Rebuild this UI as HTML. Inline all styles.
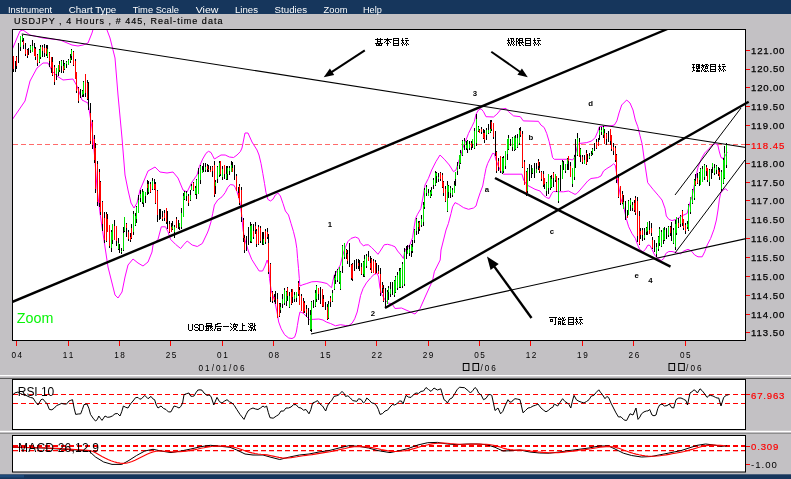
<!DOCTYPE html>
<html><head><meta charset="utf-8"><title>USDJPY 4 Hours</title>
<style>html,body{margin:0;padding:0;background:#c3c1c4;overflow:hidden}body{width:791px;height:479px;font-family:"Liberation Sans",sans-serif}svg{display:block;position:absolute;left:0;top:0;will-change:transform}text{font-family:"Liberation Sans",sans-serif}</style>
</head><body>
<svg width="791" height="479" viewBox="0 0 791 479">
<defs><clipPath id="cm"><rect x="13" y="30" width="732" height="311"/></clipPath><clipPath id="cr"><rect x="13" y="381" width="732" height="48"/></clipPath><clipPath id="cd"><rect x="13" y="437" width="732" height="35"/></clipPath></defs>
<rect x="0" y="0" width="791" height="479" fill="#c3c1c4"/>
<rect x="0" y="0" width="791" height="14" fill="#16365c"/>
<text x="8.0" y="13" font-size="9.6" fill="#ffffff" textLength="44.0" lengthAdjust="spacingAndGlyphs">Instrument</text>
<text x="68.8" y="13" font-size="9.6" fill="#ffffff" textLength="47.5" lengthAdjust="spacingAndGlyphs">Chart Type</text>
<text x="132.7" y="13" font-size="9.6" fill="#ffffff" textLength="46.3" lengthAdjust="spacingAndGlyphs">Time Scale</text>
<text x="195.7" y="13" font-size="9.6" fill="#ffffff" textLength="22.8" lengthAdjust="spacingAndGlyphs">View</text>
<text x="235.0" y="13" font-size="9.6" fill="#ffffff" textLength="23.0" lengthAdjust="spacingAndGlyphs">Lines</text>
<text x="274.6" y="13" font-size="9.6" fill="#ffffff" textLength="32.4" lengthAdjust="spacingAndGlyphs">Studies</text>
<text x="323.6" y="13" font-size="9.6" fill="#ffffff" textLength="23.8" lengthAdjust="spacingAndGlyphs">Zoom</text>
<text x="363.0" y="13" font-size="9.6" fill="#ffffff" textLength="18.8" lengthAdjust="spacingAndGlyphs">Help</text>
<text x="14" y="24.3" font-size="9" fill="#000" stroke="#000" stroke-width="0.15" textLength="208.5" lengthAdjust="spacing">USDJPY , 4 Hours , # 445, Real-time data</text>
<rect x="0" y="474.3" width="791" height="4.7" fill="#16365c"/>
<rect x="0" y="475" width="24" height="2.5" fill="#1f4a7a"/>
<rect x="12.5" y="29.5" width="733" height="311" fill="#fff" stroke="#000" stroke-width="1"/>
<rect x="0" y="375" width="791" height="1.2" fill="#ffffff"/>
<rect x="0" y="377.9" width="791" height="1.1" fill="#5a5a5a"/>
<rect x="0" y="430.8" width="791" height="1.3" fill="#ffffff"/>
<rect x="0" y="432.9" width="791" height="1.1" fill="#8e8e8e"/>
<rect x="12.5" y="379.5" width="733" height="50" fill="#fff" stroke="#000" stroke-width="1"/>
<rect x="12.5" y="435.5" width="733" height="36.5" fill="#fff" stroke="#000" stroke-width="1"/>
<g clip-path="url(#cm)">
<line x1="13" y1="144.5" x2="745" y2="144.5" stroke="#ff6a6a" stroke-width="1" stroke-dasharray="5,3"/>
<polyline fill="none" stroke="#ff00ff" stroke-width="1" stroke-linejoin="round" points="12.0,50.0 17.0,38.0 20.0,31.0 23.0,30.0 30.0,35.0 43.0,38.0 60.0,40.0 72.0,45.0 78.0,46.0 83.0,45.0 88.0,43.0 92.0,33.0 94.0,26.0 100.0,8.0 105.0,20.0 107.0,30.0 110.0,38.0 115.0,58.0 118.0,95.0 122.0,138.0 125.0,175.0 127.0,185.0 128.0,190.0 131.0,203.0 134.0,208.0 137.0,203.0 140.0,190.0 143.0,183.0 148.0,171.0 155.0,167.0 160.0,172.0 167.0,173.0 173.0,172.0 178.0,178.0 183.0,190.0 187.0,192.0 192.0,182.0 197.0,175.0 199.3,166.7 202.7,159.0 206.0,153.3 208.5,151.3 211.0,152.5 212.7,155.8 214.4,159.0 216.9,157.5 221.0,155.0 225.2,155.0 229.4,157.0 233.6,157.5 237.0,155.0 240.3,151.7 242.0,148.0 245.0,133.0 248.0,133.0 252.0,142.0 257.0,150.0 259.0,155.0 261.0,163.4 262.8,173.4 264.5,183.4 266.0,192.6 267.8,199.3 270.4,201.0 272.9,199.3 275.4,195.0 277.9,193.0 280.4,196.0 283.0,203.5 285.4,211.0 288.5,215.0 291.0,223.4 293.5,231.7 295.5,240.0 296.8,248.4 297.6,258.4 298.5,268.5 299.3,278.5 299.8,286.0 302.7,284.8 306.8,283.5 311.8,281.8 316.9,281.5 321.9,282.3 326.9,283.5 330.2,286.5 331.6,287.7 332.7,281.8 334.4,275.0 336.9,271.0 340.3,265.0 342.8,255.0 345.3,247.6 347.8,241.7 351.0,238.4 355.3,237.0 358.6,238.4 360.3,242.6 363.6,246.0 365.0,245.0 368.3,244.8 371.7,247.6 375.0,251.0 378.0,254.3 380.9,250.0 384.2,244.8 387.6,244.3 391.7,245.4 395.0,246.8 397.6,251.0 401.0,255.0 403.4,258.5 405.0,250.0 407.6,247.6 410.0,244.3 412.6,237.6 414.0,228.0 415.5,218.5 417.5,214.3 420.9,208.5 423.4,195.0 425.0,185.0 428.4,178.4 431.7,170.0 435.9,161.7 440.0,155.0 444.3,159.2 449.3,165.0 453.5,171.7 456.0,170.0 458.5,161.7 461.0,155.0 462.6,148.5 465.0,142.6 468.5,133.4 471.8,126.7 474.3,121.7 476.0,114.2 478.5,110.0 481.0,108.7 483.5,111.7 486.0,116.7 493.5,117.0 496.9,114.2 501.0,109.2 506.0,108.4 508.6,111.7 513.6,115.9 520.3,116.7 523.3,120.9 538.4,121.3 540.9,125.0 544.2,127.5 546.7,133.4 549.2,141.7 550.9,149.2 552.6,157.6 554.3,159.3 570.0,159.3 572.6,160.0 574.3,157.6 576.0,151.7 577.6,145.0 580.0,143.4 586.8,142.6 591.8,140.9 595.2,137.5 597.7,131.7 599.4,126.7 603.5,126.3 611.0,125.8 614.4,125.0 616.9,120.8 619.0,113.0 621.7,105.0 626.7,100.0 630.0,103.0 633.0,110.0 635.3,120.0 637.8,126.7 640.0,135.6 642.2,144.3 644.4,160.8 647.7,182.7 653.0,189.3 658.6,195.8 662.0,200.0 665.0,208.4 666.3,216.0 668.8,219.3 672.0,220.6 676.3,219.3 680.5,216.7 683.8,215.0 687.2,213.4 688.9,206.7 690.5,200.9 692.2,196.0 694.5,184.0 698.0,167.3 701.4,158.6 704.7,153.0 709.0,148.7 712.3,145.0 715.6,143.7 717.8,145.0 719.4,152.0 721.0,157.5 723.3,158.6 725.5,155.3 727.3,152.0"/>
<polyline fill="none" stroke="#ff00ff" stroke-width="1" stroke-linejoin="round" points="12.0,120.0 25.0,101.0 30.0,81.0 37.0,68.0 43.0,63.0 48.0,63.0 52.0,71.0 57.0,76.0 63.0,80.0 73.0,79.0 77.0,86.0 82.0,100.0 88.0,103.0 92.0,128.0 95.0,161.0 97.0,188.0 100.0,213.0 105.0,247.0 108.0,267.0 112.0,283.0 115.0,295.0 118.0,298.0 122.0,292.0 125.0,277.0 128.0,265.0 133.0,259.0 138.0,263.0 143.0,266.0 148.0,262.0 152.0,252.0 153.0,245.0 158.0,239.3 161.3,226.8 165.5,226.8 168.0,231.8 170.5,239.3 175.5,244.3 180.6,248.5 184.0,244.3 187.2,241.0 192.2,245.0 197.3,246.5 202.3,243.5 207.3,233.0 208.5,230.0 211.0,221.8 212.7,213.5 214.4,205.0 217.7,200.0 222.0,196.8 225.2,192.6 227.7,187.6 230.3,184.6 233.6,185.0 235.3,187.6 237.0,191.8 238.6,196.8 239.8,201.8 240.8,208.5 241.7,215.0 243.0,230.0 245.0,240.0 248.4,251.0 251.7,259.3 255.9,266.0 259.2,271.0 262.6,271.0 265.0,266.0 267.2,260.0 268.7,265.0 269.5,278.7 271.2,290.4 274.5,300.4 277.0,312.0 278.7,322.0 281.2,328.8 284.6,334.7 288.7,338.0 292.0,338.5 294.6,337.2 296.3,332.2 297.4,325.5 298.8,317.0 300.0,311.8 303.0,313.0 306.3,316.3 309.6,319.6 313.8,319.3 318.8,319.0 323.0,320.0 326.3,322.0 330.5,323.5 335.5,325.8 340.5,324.7 345.5,325.5 348.9,325.5 352.2,323.0 354.7,318.8 357.2,312.0 358.9,303.8 360.6,295.4 363.0,288.7 366.4,282.9 370.6,277.9 374.0,274.5 377.3,273.4 378.6,277.0 379.8,287.0 381.5,293.7 384.8,299.6 388.0,303.0 392.0,303.8 395.0,308.5 401.5,308.0 406.0,310.0 415.0,314.0 420.0,308.5 426.0,295.0 431.0,284.0 432.7,280.0 434.3,271.8 437.7,265.0 440.2,260.0 441.0,250.0 443.5,240.0 446.0,230.0 448.4,223.5 451.0,213.5 452.6,206.8 455.0,202.6 458.5,204.3 463.5,207.6 468.5,209.3 473.5,208.0 476.0,206.0 477.7,200.0 480.2,192.6 482.7,186.0 484.4,176.7 486.0,168.4 487.7,163.4 490.2,158.4 492.7,153.3 494.4,153.7 496.0,160.0 498.6,166.7 501.0,171.7 503.6,174.2 522.0,174.2 523.6,180.0 527.0,185.0 535.0,189.3 540.0,191.0 543.4,195.2 546.7,197.7 549.2,198.5 551.7,193.5 553.4,191.5 563.4,191.8 568.5,191.0 571.8,192.7 575.0,194.4 576.8,193.5 580.0,190.0 584.3,185.0 587.7,181.0 591.0,178.5 597.7,177.6 601.0,176.0 603.5,171.0 606.9,168.5 611.0,166.0 613.6,163.8 615.2,165.0 616.6,173.5 617.7,181.8 619.4,190.0 620.8,198.5 623.7,206.7 626.2,218.4 628.7,226.8 632.0,233.5 635.4,238.5 637.4,244.3 639.6,249.3 643.0,251.8 645.4,249.3 648.0,245.0 650.0,245.5 652.0,249.3 654.6,255.0 658.0,258.5 661.3,260.5 663.8,258.5 665.8,253.5 668.8,251.5 672.0,251.5 676.3,252.7 680.5,253.8 683.8,251.0 688.0,249.3 691.4,251.0 694.7,255.0 698.0,256.8 702.2,256.8 704.7,251.8 707.2,245.0 710.6,238.5 714.0,229.3 716.4,220.0 718.0,210.0 719.3,200.0 720.6,193.4 723.0,190.0 725.6,188.7 727.6,190.8"/>
<g transform="translate(0.5,0)" shape-rendering="crispEdges" fill="none" stroke-width="1">
<path stroke="#000" d="M13 55.6V71.7M15 60.5V71.9M16 56.3V69.2M18 42.5V63.3M20 35.5V50.9M22 34.8V42.1M23 37.8V49.2M25 43.0V56.2M27 49.2V57.6M28 47.8V55.2M30 44.8V53.0M32 40.2V52.3M34 42.5V55.7M35 46.8V59.6M37 54.1V65.9M39 48.5V63.1M40 45.0V59.4M42 44.5V57.4M44 44.4V57.1M46 44.8V56.2M47 44.9V57.5M49 52.1V66.8M51 56.5V72.7M52 57.0V75.7M54 64.9V84.6M56 67.7V80.1M58 64.5V75.8M59 61.1V72.3M61 60.1V72.8M63 60.1V72.7M64 63.1V70.4M66 61.1V67.7M68 58.6V64.7M70 54.0V62.7M71 49.3V60.0M73 51.4V65.5M75 58.8V78.8M76 71.5V93.2M78 87.4V102.9M80 89.2V98.1M82 89.7V97.2M83 80.7V96.9M85 73.5V97.1M87 79.6V99.6M88 81.9V110.2M90 103.3V143.7M92 120.1V148.5M94 134.6V163.1M95 142.5V193.4M97 160.5V205.7M99 169.0V206.6M100 181.4V214.7M102 201.2V230.8M104 212.1V242.7M106 211.5V242.1M107 214.3V232.0M109 224.9V247.9M111 230.0V251.9M112 223.6V244.0M114 220.2V240.3M116 226.0V246.0M118 237.6V250.3M119 243.8V252.6M121 248.0V253.7M123 226.7V251.3M124 216.7V232.4M126 223.2V236.7M128 229.6V241.3M130 232.5V241.6M131 224.2V238.6M133 211.1V234.6M135 213.0V226.2M136 206.4V223.2M138 195.4V213.3M140 190.2V201.8M142 189.4V203.8M143 191.0V207.0M145 191.7V203.1M147 180.1V195.3M148 180.8V193.6M150 181.8V193.1M152 177.9V190.0M154 179.1V190.0M155 182.0V204.3M157 189.8V221.6M159 208.5V220.0M160 209.3V219.2M162 211.3V221.2M164 210.3V220.6M166 207.6V224.1M167 211.0V229.1M169 220.6V233.2M171 222.9V232.1M172 221.0V229.9M174 225.4V237.9M176 216.7V228.1M178 220.1V229.2M179 222.6V230.4M181 208.1V228.5M183 192.8V217.1M184 191.4V200.0M186 190.7V200.9M188 193.7V206.4M190 190.3V200.5M191 183.6V190.3M193 182.1V191.1M195 186.4V195.0M196 179.0V198.8M198 167.9V194.2M200 165.4V183.9M202 165.6V173.1M203 163.2V172.3M205 163.4V171.7M207 163.6V172.4M208 164.9V171.9M210 165.9V171.9M212 165.8V176.8M214 161.4V196.8M215 179.9V193.6M217 165.7V183.0M219 160.8V177.4M220 161.1V176.4M222 166.0V179.6M224 165.1V179.1M226 165.8V179.7M227 166.0V179.7M229 165.8V175.3M231 161.3V172.3M232 162.4V172.4M234 165.0V180.3M236 174.3V191.2M238 186.9V198.3M239 183.7V205.4M241 187.4V222.4M243 217.7V242.1M244 235.2V253.1M246 235.7V250.9M248 227.4V245.4M250 222.3V242.5M251 223.9V242.5M253 224.4V238.6M255 221.8V234.3M256 229.3V246.8M258 225.2V244.9M260 226.3V243.1M262 231.9V244.6M263 232.1V244.6M265 228.7V244.4M267 228.0V238.5M268 233.6V273.6M270 263.1V301.5M272 290.5V303.4M274 293.8V301.5M275 291.4V303.8M277 292.7V318.4M279 303.3V317.2M280 303.2V312.6M282 293.9V307.9M284 287.5V304.5M286 291.2V305.5M287 287.0V300.6M289 292.3V307.5M291 289.4V304.6M292 289.0V302.5M294 292.2V301.8M296 292.0V301.5M298 281.4V296.4M299 287.0V305.3M301 294.2V310.8M303 298.3V313.4M304 300.7V313.3M306 304.9V316.6M308 308.2V324.5M310 309.5V330.6M311 300.8V332.4M313 300.1V308.4M315 290.0V307.2M316 285.4V301.7M318 288.0V300.0M320 287.1V303.8M322 289.1V307.2M323 295.4V307.2M325 302.0V310.2M327 303.6V319.6M328 300.9V318.5M330 296.4V307.1M332 289.9V301.7M334 274.6V289.8M335 270.6V283.5M337 268.9V282.1M339 266.7V284.2M340 270.8V289.6M342 245.0V272.8M344 242.7V258.9M346 249.2V259.4M347 249.5V263.5M349 243.0V266.8M351 263.7V279.6M352 262.7V281.4M354 260.4V270.6M356 259.4V268.9M358 259.2V268.8M359 260.0V270.6M361 262.6V274.7M363 261.0V276.7M364 255.0V276.8M366 253.6V267.7M368 251.0V260.7M370 256.2V269.8M371 258.0V272.5M373 259.3V273.4M375 259.6V274.4M376 262.5V273.4M378 265.4V274.2M380 267.9V295.8M382 282.2V293.2M383 285.0V301.9M385 287.5V307.0M387 290.3V303.9M388 285.6V300.4M390 281.9V297.0M392 281.5V294.8M394 280.0V296.8M395 276.3V293.2M397 271.8V289.5M399 267.8V288.0M400 267.9V288.2M402 261.8V287.5M404 248.4V285.6M406 245.8V258.7M407 244.6V254.3M409 244.9V256.1M411 244.3V256.8M412 240.3V253.0M414 229.4V242.9M416 218.4V234.6M418 221.4V233.7M419 220.5V230.9M421 214.6V227.1M423 201.8V226.1M424 188.3V208.8M426 185.0V195.7M428 188.6V196.3M430 190.4V198.2M431 186.9V195.5M433 177.5V188.8M435 171.2V185.9M436 171.8V182.9M438 173.4V182.3M440 172.0V181.3M442 173.0V187.7M443 180.6V196.4M445 186.2V202.4M447 181.1V211.5M448 185.3V198.0M450 186.3V197.6M452 188.4V196.7M454 181.4V193.3M455 172.2V185.7M457 162.1V175.1M459 155.0V169.2M460 149.5V163.8M462 139.8V155.9M464 138.3V149.6M466 140.6V150.1M467 140.4V153.0M469 141.2V150.1M471 140.6V149.5M472 139.0V148.2M474 128.1V148.5M476 113.5V146.1M478 125.6V132.3M479 128.6V133.2M481 127.3V133.5M483 128.5V138.9M484 130.0V142.8M486 127.9V140.4M488 123.9V134.0M490 120.3V133.1M491 119.7V130.7M493 122.6V139.1M495 131.0V156.0M496 150.9V173.1M498 157.7V171.4M500 156.1V172.8M502 156.5V173.7M503 156.0V172.7M505 150.5V169.4M507 138.9V159.7M508 134.8V149.7M510 139.2V145.7M512 137.3V150.5M514 135.5V151.4M515 135.1V150.2M517 133.8V147.5M519 128.4V144.8M520 127.1V136.8M522 130.9V167.6M524 160.2V185.3M526 170.5V195.7M527 167.5V192.6M529 163.8V180.7M531 165.3V178.4M532 167.6V174.2M534 163.4V178.0M536 162.7V173.4M538 159.3V169.7M539 162.0V173.3M541 170.7V180.7M543 170.8V186.7M544 178.1V189.1M546 182.1V196.4M548 174.0V193.5M550 176.2V190.3M551 174.9V187.6M553 172.1V186.9M555 174.0V181.5M556 175.6V192.2M558 178.4V203.2M560 165.0V191.1M562 160.0V179.2M563 161.4V169.8M565 163.5V172.7M567 157.8V170.1M568 156.1V169.9M570 162.2V177.1M572 167.7V187.1M574 155.2V180.3M575 138.5V167.9M577 132.8V156.2M579 138.3V157.4M580 148.0V162.3M582 154.6V164.2M584 155.2V163.8M586 149.5V164.8M587 154.2V161.8M589 152.5V158.5M591 151.4V156.3M592 148.0V154.7M594 143.4V151.4M596 139.3V148.7M598 137.7V146.0M599 127.2V139.7M601 126.8V135.2M603 126.0V137.6M604 129.3V144.1M606 133.4V144.5M608 131.0V141.9M610 128.5V145.3M611 134.9V151.1M613 142.5V154.7M615 145.9V161.8M616 154.0V182.9M618 173.5V197.9M620 185.5V204.7M622 190.7V203.6M623 195.0V209.4M625 200.7V220.3M627 210.2V217.9M628 199.5V215.1M630 198.3V210.8M632 202.2V211.4M634 199.8V212.0M635 196.3V215.0M637 197.0V242.4M639 210.8V244.6M640 227.5V238.5M642 228.2V240.9M644 227.8V239.5M646 226.8V235.4M647 221.6V234.7M649 221.1V234.1M651 222.7V236.2M652 236.7V248.6M654 239.5V251.8M656 242.8V256.5M658 236.1V250.5M659 227.0V246.2M661 229.7V246.5M663 227.8V243.5M664 227.1V240.5M666 227.9V238.5M668 225.7V236.8M670 225.6V236.2M671 222.3V240.5M673 228.3V243.9M675 219.9V249.6M676 217.1V234.9M678 218.3V227.9M680 215.3V226.6M682 210.0V226.4M683 218.5V230.4M685 223.3V233.8M687 221.2V228.8M688 204.1V230.7M690 197.2V214.2M692 188.8V204.0M694 178.7V199.8M695 174.0V186.2M697 172.7V183.9M699 172.3V186.0M700 167.8V185.2M702 165.6V181.7M704 163.8V179.7M706 164.5V175.6M707 167.9V182.0M709 169.3V185.7M711 169.3V178.7M712 162.7V172.6M714 163.8V174.5M716 165.3V174.3M718 166.7V175.7M719 168.1V179.7M721 169.5V191.2M723 158.0V184.3M724 145.6V178.9M726 142.8V167.9"/>
<path stroke="#00e000" d="M20 36.0V47.3M22 36.1V40.0M30 46.0V50.4M32 46.2V51.9M39 50.2V61.8M40 46.5V57.4M47 48.6V56.6M56 68.2V74.2M58 64.6V72.1M61 61.4V66.2M64 63.7V68.5M66 62.4V64.1M68 60.2V64.6M70 57.5V60.6M71 49.7V55.9M82 91.3V95.1M83 81.9V94.1M111 231.8V248.1M112 223.6V239.9M118 243.2V249.1M121 250.6V252.2M123 232.8V250.4M124 217.1V231.3M133 213.6V232.2M135 215.8V224.6M136 206.7V219.0M138 199.6V212.5M140 193.6V197.9M142 191.5V202.1M143 191.0V203.4M145 191.8V195.8M148 184.3V192.2M152 180.6V189.0M172 226.4V228.8M174 227.1V231.6M179 223.2V226.9M181 212.7V227.0M183 196.0V216.7M184 192.2V198.6M186 192.7V195.8M190 194.5V200.3M191 185.5V189.7M195 187.8V194.2M196 179.8V194.4M198 173.9V193.5M200 165.9V179.6M202 169.8V172.6M205 167.0V169.6M215 182.3V185.9M217 166.9V179.4M219 163.2V175.1M222 168.8V176.5M226 173.8V179.1M227 167.5V173.8M229 167.7V171.1M231 165.2V172.1M250 225.9V241.3M251 224.9V241.9M263 238.6V243.8M280 307.3V310.1M282 299.3V304.3M284 290.1V303.3M286 291.5V300.8M289 295.7V307.3M294 294.6V299.0M296 292.3V297.8M310 314.6V329.7M311 302.4V328.9M315 293.2V306.2M316 285.8V298.8M328 304.0V318.2M332 292.7V300.9M334 277.5V289.4M335 276.3V280.2M337 270.1V279.9M339 266.8V281.9M340 271.7V289.0M342 246.2V265.9M344 242.9V257.4M363 261.8V274.3M364 258.7V275.5M366 255.5V266.2M387 292.1V303.5M388 287.8V292.2M390 288.6V294.3M394 280.7V295.4M395 276.5V291.5M397 275.2V288.4M399 270.9V287.2M400 268.5V286.5M402 263.7V285.6M404 251.7V284.2M407 250.2V253.6M409 248.7V252.8M411 245.4V250.7M412 246.8V251.1M414 230.2V239.5M416 219.1V230.9M418 222.9V227.0M421 218.8V224.7M423 204.7V221.8M424 189.8V207.0M426 186.8V193.4M428 192.9V195.8M430 191.8V196.5M431 190.2V194.1M433 179.9V185.3M435 173.0V185.3M436 173.1V176.1M438 176.7V179.4M447 185.0V211.3M448 186.2V191.9M450 187.6V193.1M452 189.7V195.2M454 184.8V192.7M455 172.3V178.5M457 165.5V170.7M459 155.3V165.4M460 152.7V163.2M462 140.7V155.4M464 140.8V144.9M466 144.5V147.6M467 141.3V149.4M469 143.9V148.0M472 139.0V143.8M474 130.8V148.0M476 119.4V142.7M478 126.5V130.5M486 130.1V135.3M488 130.4V133.1M490 129.1V132.3M502 157.7V172.8M503 158.1V171.2M505 151.0V165.9M507 139.0V153.6M508 138.4V149.1M512 137.6V146.6M514 135.8V150.3M515 138.0V148.6M517 138.3V146.8M519 129.7V143.2M527 168.5V191.0M532 168.2V172.7M536 169.2V173.0M546 183.0V191.2M548 174.2V187.9M550 176.9V188.4M551 179.4V187.4M555 174.2V179.6M558 179.9V200.9M562 161.7V179.1M565 164.3V170.9M567 158.7V163.7M572 168.1V183.6M574 156.9V177.0M577 138.2V155.4M580 149.0V154.8M584 160.1V163.8M589 156.1V158.2M591 153.7V155.4M592 148.8V152.5M599 130.2V134.5M601 129.6V131.8M603 127.3V134.9M623 201.6V208.9M628 201.2V214.8M630 200.4V205.2M632 204.7V208.2M644 235.3V238.3M646 228.4V231.7M647 221.8V230.8M656 246.7V253.6M658 237.0V249.0M659 228.8V243.4M661 231.5V246.1M663 228.3V240.4M664 230.3V239.9M668 227.4V235.4M673 229.9V242.8M675 223.6V247.3M676 217.4V233.1M680 215.8V223.7M687 224.0V226.6M688 205.3V229.8M690 197.4V212.2M692 189.9V203.3M694 179.6V197.9M699 172.5V180.2M700 169.2V184.9M702 168.5V181.5M704 165.0V176.9M709 169.9V181.6M712 163.3V166.5M714 168.4V173.4M716 166.4V170.3M721 171.7V189.4M723 160.3V182.5M724 153.0V177.6M726 144.4V165.1"/>
<path stroke="#ff0000" d="M13 55.7V69.4M16 57.3V65.9M23 41.0V45.0M25 48.6V53.8M27 50.0V55.7M34 47.7V55.7M35 49.3V56.8M37 55.2V62.7M42 46.5V50.7M44 47.7V52.5M46 47.6V54.4M49 52.5V60.9M51 56.5V68.1M52 61.8V75.0M54 66.5V81.8M59 63.9V69.8M63 66.1V71.3M73 52.3V64.5M75 61.2V78.7M76 72.0V90.7M78 87.6V101.2M85 74.2V92.9M87 82.7V99.2M90 113.0V141.3M92 121.7V145.1M94 139.0V159.6M95 147.9V189.2M97 164.2V202.0M99 172.3V203.1M100 182.2V212.4M102 202.2V223.8M104 217.9V239.9M106 214.3V240.6M107 218.5V231.8M109 225.4V245.7M114 225.8V240.2M116 226.2V241.4M126 223.7V227.8M128 231.8V239.2M130 236.7V240.1M131 227.5V237.8M147 183.5V187.6M150 183.9V192.3M154 183.5V188.9M155 184.3V203.2M157 190.5V215.3M162 216.5V219.3M164 212.8V217.9M166 207.8V221.7M169 224.1V231.5M171 227.2V231.6M176 219.3V227.5M188 196.1V202.5M193 183.3V189.8M207 166.0V169.3M208 168.6V170.4M210 170.1V171.6M212 166.9V171.0M214 164.6V195.0M220 161.1V173.9M224 165.2V173.7M232 167.5V172.1M236 175.8V191.0M238 193.2V197.9M239 185.5V202.5M241 190.3V217.0M243 219.9V238.1M244 237.6V250.3M253 231.0V236.5M255 226.2V229.5M256 231.2V244.3M258 227.0V244.3M260 227.5V240.5M265 230.8V242.2M267 231.8V236.7M268 242.8V271.9M270 264.1V297.3M272 291.8V300.7M274 297.0V299.8M277 299.1V318.2M279 304.0V316.4M287 288.0V295.7M291 292.1V304.2M292 289.0V297.3M298 282.5V293.5M299 289.9V304.6M301 295.7V310.8M303 301.2V313.0M304 302.6V310.6M306 308.8V313.0M318 288.3V293.9M322 289.3V305.8M323 299.4V307.2M327 307.4V319.1M330 297.5V301.9M346 250.0V252.6M347 253.5V261.1M351 264.5V278.4M352 263.8V279.2M358 263.2V266.3M361 266.6V273.9M368 256.8V260.5M370 262.5V267.7M371 258.5V271.5M373 260.7V272.7M375 261.5V274.0M378 271.4V273.8M380 273.5V293.3M382 285.0V288.2M383 289.2V301.2M419 221.6V229.2M440 173.3V179.4M442 175.4V187.0M443 181.9V193.1M445 188.6V201.4M471 142.7V147.1M479 129.6V132.8M481 129.2V131.8M483 133.1V137.9M484 133.3V139.7M491 121.7V129.4M493 123.2V137.1M496 152.2V170.9M498 161.3V166.5M500 156.1V171.3M520 130.6V134.8M522 133.6V166.9M524 161.7V184.7M526 172.3V195.4M538 160.7V165.7M539 168.1V171.4M541 172.1V179.1M543 173.7V185.4M544 178.3V183.9M553 172.6V177.7M556 176.0V191.1M568 156.2V160.6M570 166.2V176.8M579 142.1V156.7M582 156.5V162.1M586 152.8V163.5M596 142.3V148.0M598 141.5V145.6M604 133.0V143.5M606 133.5V139.2M610 128.6V141.1M611 135.2V149.0M613 146.7V150.5M615 148.4V160.1M616 154.6V179.6M618 177.8V197.1M620 186.4V203.1M622 193.7V203.3M627 215.8V217.8M634 202.9V209.9M635 198.2V213.3M637 201.3V236.0M639 215.9V243.6M640 230.8V234.7M642 229.9V235.0M649 229.8V233.7M651 227.5V233.3M652 240.2V247.5M670 227.2V233.4M678 222.5V227.4M682 210.8V222.9M683 218.6V227.5M685 224.6V230.8M695 180.8V185.4M697 178.3V183.2M706 167.0V171.1M707 168.2V179.8M718 170.0V174.3M719 172.1V177.2"/>
</g>
</g>
<g stroke="#000" fill="none" stroke-linecap="butt">
<line x1="21.7" y1="34" x2="746" y2="147.5" stroke-width="1.1"/>
<line x1="311" y1="334" x2="746" y2="238.6" stroke-width="1.1"/>
<line x1="675" y1="195" x2="741" y2="108" stroke-width="1"/>
<line x1="675" y1="253" x2="745" y2="160" stroke-width="1"/>
<line x1="12" y1="302" x2="667.5" y2="29" stroke-width="2.4" clip-path="url(#cm)"/>
<line x1="385" y1="308" x2="748.7" y2="101.8" stroke-width="2.4"/>
<line x1="495" y1="178" x2="670.5" y2="266.6" stroke-width="2.4"/>
</g>
<line x1="364.8" y1="50.4" x2="330.4" y2="72.9" stroke="#000" stroke-width="2.0"/>
<polygon fill="#000" points="323.7,77.3 329.9,68.6 334.2,75.1"/>
<line x1="491.3" y1="51.7" x2="521.3" y2="72.7" stroke="#000" stroke-width="2.0"/>
<polygon fill="#000" points="527.8,77.3 517.4,74.8 521.9,68.4"/>
<line x1="531.5" y1="318.0" x2="493.4" y2="265.4" stroke="#000" stroke-width="2.4"/>
<polygon fill="#000" points="487.0,256.5 498.7,264.1 490.6,270.0"/>
<text x="330.0" y="226.5" font-size="7.8" font-weight="bold" text-anchor="middle" fill="#000">1</text>
<text x="373.0" y="315.5" font-size="7.8" font-weight="bold" text-anchor="middle" fill="#000">2</text>
<text x="475.0" y="96.0" font-size="7.8" font-weight="bold" text-anchor="middle" fill="#000">3</text>
<text x="487.0" y="191.5" font-size="7.8" font-weight="bold" text-anchor="middle" fill="#000">a</text>
<text x="531.0" y="140.0" font-size="7.8" font-weight="bold" text-anchor="middle" fill="#000">b</text>
<text x="552.0" y="233.5" font-size="7.8" font-weight="bold" text-anchor="middle" fill="#000">c</text>
<text x="590.7" y="105.5" font-size="7.8" font-weight="bold" text-anchor="middle" fill="#000">d</text>
<text x="636.7" y="277.5" font-size="7.8" font-weight="bold" text-anchor="middle" fill="#000">e</text>
<text x="650.5" y="282.5" font-size="7.8" font-weight="bold" text-anchor="middle" fill="#000">4</text>
<text x="16.8" y="323" font-size="15" fill="#08f408" textLength="36.6" lengthAdjust="spacingAndGlyphs">Zoom</text>
<path d="M377.00 38.00h1.00v1.00h-1.00zM380.00 38.00h1.00v1.00h-1.00zM375.00 39.00h8.00v1.00h-8.00zM377.00 40.00h1.00v1.00h-1.00zM380.00 40.00h1.00v1.00h-1.00zM377.00 41.00h4.00v1.00h-4.00zM377.00 42.00h1.00v1.00h-1.00zM380.00 42.00h1.00v1.00h-1.00zM375.00 43.00h8.00v1.00h-8.00zM376.00 44.00h1.00v1.00h-1.00zM378.00 44.00h2.00v1.00h-2.00zM381.00 44.00h1.00v1.00h-1.00zM376.00 45.00h6.00v1.00h-6.00zM387.00 38.00h1.00v1.00h-1.00zM384.00 39.00h8.00v1.00h-8.00zM386.00 40.00h3.00v1.00h-3.00zM385.00 41.00h1.00v1.00h-1.00zM387.00 41.00h1.00v1.00h-1.00zM389.00 41.00h1.00v1.00h-1.00zM384.00 42.00h1.00v1.00h-1.00zM387.00 42.00h1.00v1.00h-1.00zM390.00 42.00h1.00v1.00h-1.00zM386.00 43.00h3.00v1.00h-3.00zM387.00 44.00h1.00v1.00h-1.00zM387.00 45.00h1.00v1.00h-1.00zM393.00 38.00h6.00v1.00h-6.00zM393.00 39.00h1.00v1.00h-1.00zM398.00 39.00h1.00v1.00h-1.00zM393.00 40.00h6.00v1.00h-6.00zM393.00 41.00h1.00v1.00h-1.00zM398.00 41.00h1.00v1.00h-1.00zM393.00 42.00h1.00v1.00h-1.00zM398.00 42.00h1.00v1.00h-1.00zM393.00 43.00h6.00v1.00h-6.00zM393.00 44.00h1.00v1.00h-1.00zM398.00 44.00h1.00v1.00h-1.00zM393.00 45.00h6.00v1.00h-6.00zM402.00 38.00h1.00v1.00h-1.00zM405.00 38.00h3.00v1.00h-3.00zM402.00 39.00h1.00v1.00h-1.00zM401.00 40.00h3.00v1.00h-3.00zM405.00 40.00h4.00v1.00h-4.00zM402.00 41.00h1.00v1.00h-1.00zM406.00 41.00h1.00v1.00h-1.00zM402.00 42.00h2.00v1.00h-2.00zM406.00 42.00h1.00v1.00h-1.00zM401.00 43.00h1.00v1.00h-1.00zM403.00 43.00h1.00v1.00h-1.00zM405.00 43.00h1.00v1.00h-1.00zM407.00 43.00h1.00v1.00h-1.00zM402.00 44.00h1.00v1.00h-1.00zM404.00 44.00h1.00v1.00h-1.00zM406.00 44.00h1.00v1.00h-1.00zM408.00 44.00h1.00v1.00h-1.00zM402.00 45.00h1.00v1.00h-1.00zM406.00 45.00h1.00v1.00h-1.00z" fill="#000"/>
<path d="M508.00 38.00h1.00v1.00h-1.00zM510.00 38.00h4.00v1.00h-4.00zM508.00 39.00h1.00v1.00h-1.00zM511.00 39.00h1.00v1.00h-1.00zM513.00 39.00h1.00v1.00h-1.00zM507.00 40.00h3.00v1.00h-3.00zM511.00 40.00h1.00v1.00h-1.00zM513.00 40.00h1.00v1.00h-1.00zM508.00 41.00h1.00v1.00h-1.00zM511.00 41.00h2.00v1.00h-2.00zM514.00 41.00h1.00v1.00h-1.00zM508.00 42.00h2.00v1.00h-2.00zM511.00 42.00h1.00v1.00h-1.00zM513.00 42.00h1.00v1.00h-1.00zM507.00 43.00h1.00v1.00h-1.00zM509.00 43.00h1.00v1.00h-1.00zM511.00 43.00h1.00v1.00h-1.00zM513.00 43.00h1.00v1.00h-1.00zM508.00 44.00h1.00v1.00h-1.00zM510.00 44.00h1.00v1.00h-1.00zM512.00 44.00h1.00v1.00h-1.00zM514.00 44.00h1.00v1.00h-1.00zM508.00 45.00h1.00v1.00h-1.00zM510.00 45.00h1.00v1.00h-1.00zM513.00 45.00h1.00v1.00h-1.00zM516.00 38.00h2.00v1.00h-2.00zM519.00 38.00h4.00v1.00h-4.00zM516.00 39.00h1.00v1.00h-1.00zM518.00 39.00h2.00v1.00h-2.00zM522.00 39.00h1.00v1.00h-1.00zM516.00 40.00h1.00v1.00h-1.00zM518.00 40.00h5.00v1.00h-5.00zM516.00 41.00h2.00v1.00h-2.00zM519.00 41.00h1.00v1.00h-1.00zM522.00 41.00h1.00v1.00h-1.00zM516.00 42.00h1.00v1.00h-1.00zM518.00 42.00h6.00v1.00h-6.00zM516.00 43.00h1.00v1.00h-1.00zM518.00 43.00h2.00v1.00h-2.00zM521.00 43.00h1.00v1.00h-1.00zM516.00 44.00h1.00v1.00h-1.00zM519.00 44.00h1.00v1.00h-1.00zM522.00 44.00h1.00v1.00h-1.00zM516.00 45.00h1.00v1.00h-1.00zM519.00 45.00h2.00v1.00h-2.00zM523.00 45.00h1.00v1.00h-1.00zM525.00 38.00h6.00v1.00h-6.00zM525.00 39.00h1.00v1.00h-1.00zM530.00 39.00h1.00v1.00h-1.00zM525.00 40.00h6.00v1.00h-6.00zM525.00 41.00h1.00v1.00h-1.00zM530.00 41.00h1.00v1.00h-1.00zM525.00 42.00h1.00v1.00h-1.00zM530.00 42.00h1.00v1.00h-1.00zM525.00 43.00h6.00v1.00h-6.00zM525.00 44.00h1.00v1.00h-1.00zM530.00 44.00h1.00v1.00h-1.00zM525.00 45.00h6.00v1.00h-6.00zM534.00 38.00h1.00v1.00h-1.00zM537.00 38.00h3.00v1.00h-3.00zM534.00 39.00h1.00v1.00h-1.00zM533.00 40.00h3.00v1.00h-3.00zM537.00 40.00h4.00v1.00h-4.00zM534.00 41.00h1.00v1.00h-1.00zM538.00 41.00h1.00v1.00h-1.00zM534.00 42.00h2.00v1.00h-2.00zM538.00 42.00h1.00v1.00h-1.00zM533.00 43.00h1.00v1.00h-1.00zM535.00 43.00h1.00v1.00h-1.00zM537.00 43.00h1.00v1.00h-1.00zM539.00 43.00h1.00v1.00h-1.00zM534.00 44.00h1.00v1.00h-1.00zM536.00 44.00h1.00v1.00h-1.00zM538.00 44.00h1.00v1.00h-1.00zM540.00 44.00h1.00v1.00h-1.00zM534.00 45.00h1.00v1.00h-1.00zM538.00 45.00h1.00v1.00h-1.00z" fill="#000"/>
<path d="M692.00 64.00h3.00v1.00h-3.00zM696.00 64.00h4.00v1.00h-4.00zM693.00 65.00h1.00v1.00h-1.00zM696.00 65.00h1.00v1.00h-1.00zM698.00 65.00h2.00v1.00h-2.00zM693.00 66.00h1.00v1.00h-1.00zM696.00 66.00h4.00v1.00h-4.00zM692.00 67.00h3.00v1.00h-3.00zM696.00 67.00h1.00v1.00h-1.00zM698.00 67.00h2.00v1.00h-2.00zM693.00 68.00h1.00v1.00h-1.00zM696.00 68.00h4.00v1.00h-4.00zM693.00 69.00h1.00v1.00h-1.00zM697.00 69.00h1.00v1.00h-1.00zM693.00 70.00h2.00v1.00h-2.00zM696.00 70.00h4.00v1.00h-4.00zM692.00 71.00h1.00v1.00h-1.00zM696.00 71.00h4.00v1.00h-4.00zM702.00 64.00h1.00v1.00h-1.00zM705.00 64.00h3.00v1.00h-3.00zM701.00 65.00h4.00v1.00h-4.00zM706.00 65.00h1.00v1.00h-1.00zM708.00 65.00h1.00v1.00h-1.00zM702.00 66.00h2.00v1.00h-2.00zM705.00 66.00h3.00v1.00h-3.00zM701.00 67.00h1.00v1.00h-1.00zM703.00 67.00h1.00v1.00h-1.00zM705.00 67.00h1.00v1.00h-1.00zM707.00 67.00h1.00v1.00h-1.00zM702.00 68.00h1.00v1.00h-1.00zM705.00 68.00h3.00v1.00h-3.00zM702.00 69.00h1.00v1.00h-1.00zM704.00 69.00h1.00v1.00h-1.00zM701.00 70.00h1.00v1.00h-1.00zM703.00 70.00h1.00v1.00h-1.00zM705.00 70.00h1.00v1.00h-1.00zM707.00 70.00h1.00v1.00h-1.00zM701.00 71.00h1.00v1.00h-1.00zM704.00 71.00h3.00v1.00h-3.00zM708.00 71.00h1.00v1.00h-1.00zM710.00 64.00h6.00v1.00h-6.00zM710.00 65.00h1.00v1.00h-1.00zM715.00 65.00h1.00v1.00h-1.00zM710.00 66.00h6.00v1.00h-6.00zM710.00 67.00h1.00v1.00h-1.00zM715.00 67.00h1.00v1.00h-1.00zM710.00 68.00h1.00v1.00h-1.00zM715.00 68.00h1.00v1.00h-1.00zM710.00 69.00h6.00v1.00h-6.00zM710.00 70.00h1.00v1.00h-1.00zM715.00 70.00h1.00v1.00h-1.00zM710.00 71.00h6.00v1.00h-6.00zM719.00 64.00h1.00v1.00h-1.00zM722.00 64.00h3.00v1.00h-3.00zM719.00 65.00h1.00v1.00h-1.00zM718.00 66.00h3.00v1.00h-3.00zM722.00 66.00h4.00v1.00h-4.00zM719.00 67.00h1.00v1.00h-1.00zM723.00 67.00h1.00v1.00h-1.00zM719.00 68.00h2.00v1.00h-2.00zM723.00 68.00h1.00v1.00h-1.00zM718.00 69.00h1.00v1.00h-1.00zM720.00 69.00h1.00v1.00h-1.00zM722.00 69.00h1.00v1.00h-1.00zM724.00 69.00h1.00v1.00h-1.00zM719.00 70.00h1.00v1.00h-1.00zM721.00 70.00h1.00v1.00h-1.00zM723.00 70.00h1.00v1.00h-1.00zM725.00 70.00h1.00v1.00h-1.00zM719.00 71.00h1.00v1.00h-1.00zM723.00 71.00h1.00v1.00h-1.00z" fill="#000"/>
<path d="M549.00 317.00h8.00v1.00h-8.00zM555.00 318.00h1.00v1.00h-1.00zM550.00 319.00h3.00v1.00h-3.00zM555.00 319.00h1.00v1.00h-1.00zM550.00 320.00h1.00v1.00h-1.00zM552.00 320.00h1.00v1.00h-1.00zM555.00 320.00h1.00v1.00h-1.00zM550.00 321.00h3.00v1.00h-3.00zM555.00 321.00h1.00v1.00h-1.00zM555.00 322.00h1.00v1.00h-1.00zM555.00 323.00h1.00v1.00h-1.00zM554.00 324.00h2.00v1.00h-2.00zM559.00 317.00h1.00v1.00h-1.00zM562.00 317.00h1.00v1.00h-1.00zM564.00 317.00h1.00v1.00h-1.00zM558.00 318.00h1.00v1.00h-1.00zM560.00 318.00h1.00v1.00h-1.00zM562.00 318.00h2.00v1.00h-2.00zM558.00 319.00h4.00v1.00h-4.00zM563.00 319.00h1.00v1.00h-1.00zM565.00 319.00h1.00v1.00h-1.00zM562.00 320.00h3.00v1.00h-3.00zM558.00 321.00h3.00v1.00h-3.00zM562.00 321.00h1.00v1.00h-1.00zM558.00 322.00h1.00v1.00h-1.00zM560.00 322.00h1.00v1.00h-1.00zM562.00 322.00h1.00v1.00h-1.00zM564.00 322.00h1.00v1.00h-1.00zM558.00 323.00h3.00v1.00h-3.00zM562.00 323.00h2.00v1.00h-2.00zM558.00 324.00h1.00v1.00h-1.00zM560.00 324.00h1.00v1.00h-1.00zM562.00 324.00h4.00v1.00h-4.00zM568.00 317.00h6.00v1.00h-6.00zM568.00 318.00h1.00v1.00h-1.00zM573.00 318.00h1.00v1.00h-1.00zM568.00 319.00h6.00v1.00h-6.00zM568.00 320.00h1.00v1.00h-1.00zM573.00 320.00h1.00v1.00h-1.00zM568.00 321.00h1.00v1.00h-1.00zM573.00 321.00h1.00v1.00h-1.00zM568.00 322.00h6.00v1.00h-6.00zM568.00 323.00h1.00v1.00h-1.00zM573.00 323.00h1.00v1.00h-1.00zM568.00 324.00h6.00v1.00h-6.00zM576.00 317.00h1.00v1.00h-1.00zM579.00 317.00h3.00v1.00h-3.00zM576.00 318.00h1.00v1.00h-1.00zM575.00 319.00h3.00v1.00h-3.00zM579.00 319.00h4.00v1.00h-4.00zM576.00 320.00h1.00v1.00h-1.00zM580.00 320.00h1.00v1.00h-1.00zM576.00 321.00h2.00v1.00h-2.00zM580.00 321.00h1.00v1.00h-1.00zM575.00 322.00h1.00v1.00h-1.00zM577.00 322.00h1.00v1.00h-1.00zM579.00 322.00h1.00v1.00h-1.00zM581.00 322.00h1.00v1.00h-1.00zM576.00 323.00h1.00v1.00h-1.00zM578.00 323.00h1.00v1.00h-1.00zM580.00 323.00h1.00v1.00h-1.00zM582.00 323.00h1.00v1.00h-1.00zM576.00 324.00h1.00v1.00h-1.00zM580.00 324.00h1.00v1.00h-1.00z" fill="#000"/>
<path d="M188.00 324.00h1.00v1.00h-1.00zM192.00 324.00h1.00v1.00h-1.00zM188.00 325.00h1.00v1.00h-1.00zM192.00 325.00h1.00v1.00h-1.00zM188.00 326.00h1.00v1.00h-1.00zM192.00 326.00h1.00v1.00h-1.00zM188.00 327.00h1.00v1.00h-1.00zM192.00 327.00h1.00v1.00h-1.00zM188.00 328.00h1.00v1.00h-1.00zM192.00 328.00h1.00v1.00h-1.00zM188.00 329.00h1.00v1.00h-1.00zM192.00 329.00h1.00v1.00h-1.00zM189.00 330.00h3.00v1.00h-3.00zM195.00 324.00h3.00v1.00h-3.00zM194.00 325.00h1.00v1.00h-1.00zM198.00 325.00h1.00v1.00h-1.00zM194.00 326.00h1.00v1.00h-1.00zM195.00 327.00h3.00v1.00h-3.00zM198.00 328.00h1.00v1.00h-1.00zM194.00 329.00h1.00v1.00h-1.00zM198.00 329.00h1.00v1.00h-1.00zM195.00 330.00h3.00v1.00h-3.00zM199.00 324.00h4.00v1.00h-4.00zM199.00 325.00h1.00v1.00h-1.00zM203.00 325.00h1.00v1.00h-1.00zM199.00 326.00h1.00v1.00h-1.00zM203.00 326.00h1.00v1.00h-1.00zM199.00 327.00h1.00v1.00h-1.00zM203.00 327.00h1.00v1.00h-1.00zM199.00 328.00h1.00v1.00h-1.00zM203.00 328.00h1.00v1.00h-1.00zM199.00 329.00h1.00v1.00h-1.00zM203.00 329.00h1.00v1.00h-1.00zM199.00 330.00h4.00v1.00h-4.00z" fill="#000"/>
<path d="M206.00 323.00h6.00v1.00h-6.00zM206.00 324.00h1.00v1.00h-1.00zM211.00 324.00h1.00v1.00h-1.00zM206.00 325.00h6.00v1.00h-6.00zM205.00 326.00h8.00v1.00h-8.00zM206.00 327.00h1.00v1.00h-1.00zM208.00 327.00h1.00v1.00h-1.00zM210.00 327.00h2.00v1.00h-2.00zM206.00 328.00h3.00v1.00h-3.00zM210.00 328.00h1.00v1.00h-1.00zM212.00 328.00h1.00v1.00h-1.00zM206.00 329.00h1.00v1.00h-1.00zM208.00 329.00h1.00v1.00h-1.00zM211.00 329.00h1.00v1.00h-1.00zM205.00 330.00h4.00v1.00h-4.00zM210.00 330.00h1.00v1.00h-1.00zM212.00 330.00h1.00v1.00h-1.00zM217.00 323.00h4.00v1.00h-4.00zM215.00 324.00h3.00v1.00h-3.00zM215.00 325.00h1.00v1.00h-1.00zM215.00 326.00h7.00v1.00h-7.00zM215.00 327.00h1.00v1.00h-1.00zM215.00 328.00h1.00v1.00h-1.00zM217.00 328.00h4.00v1.00h-4.00zM214.00 329.00h1.00v1.00h-1.00zM217.00 329.00h1.00v1.00h-1.00zM220.00 329.00h1.00v1.00h-1.00zM214.00 330.00h1.00v1.00h-1.00zM217.00 330.00h4.00v1.00h-4.00zM223.00 326.00h6.00v1.00h-6.00zM230.00 323.00h1.00v1.00h-1.00zM234.00 323.00h1.00v1.00h-1.00zM231.00 324.00h1.00v1.00h-1.00zM233.00 324.00h5.00v1.00h-5.00zM233.00 325.00h1.00v1.00h-1.00zM235.00 325.00h1.00v1.00h-1.00zM237.00 325.00h1.00v1.00h-1.00zM230.00 326.00h1.00v1.00h-1.00zM233.00 326.00h4.00v1.00h-4.00zM231.00 327.00h1.00v1.00h-1.00zM233.00 327.00h1.00v1.00h-1.00zM236.00 327.00h1.00v1.00h-1.00zM232.00 328.00h1.00v1.00h-1.00zM234.00 328.00h2.00v1.00h-2.00zM231.00 329.00h1.00v1.00h-1.00zM234.00 329.00h2.00v1.00h-2.00zM230.00 330.00h1.00v1.00h-1.00zM233.00 330.00h1.00v1.00h-1.00zM236.00 330.00h2.00v1.00h-2.00zM242.00 323.00h1.00v1.00h-1.00zM242.00 324.00h1.00v1.00h-1.00zM242.00 325.00h3.00v1.00h-3.00zM242.00 326.00h1.00v1.00h-1.00zM242.00 327.00h1.00v1.00h-1.00zM242.00 328.00h1.00v1.00h-1.00zM242.00 329.00h1.00v1.00h-1.00zM239.00 330.00h8.00v1.00h-8.00zM248.00 323.00h1.00v1.00h-1.00zM250.00 323.00h3.00v1.00h-3.00zM254.00 323.00h1.00v1.00h-1.00zM249.00 324.00h1.00v1.00h-1.00zM252.00 324.00h1.00v1.00h-1.00zM254.00 324.00h1.00v1.00h-1.00zM250.00 325.00h3.00v1.00h-3.00zM254.00 325.00h2.00v1.00h-2.00zM248.00 326.00h1.00v1.00h-1.00zM250.00 326.00h1.00v1.00h-1.00zM253.00 326.00h2.00v1.00h-2.00zM249.00 327.00h4.00v1.00h-4.00zM254.00 327.00h1.00v1.00h-1.00zM251.00 328.00h2.00v1.00h-2.00zM254.00 328.00h1.00v1.00h-1.00zM249.00 329.00h1.00v1.00h-1.00zM251.00 329.00h1.00v1.00h-1.00zM253.00 329.00h3.00v1.00h-3.00zM248.00 330.00h1.00v1.00h-1.00zM250.00 330.00h2.00v1.00h-2.00zM253.00 330.00h1.00v1.00h-1.00zM255.00 330.00h1.00v1.00h-1.00z" fill="#000"/>
<rect x="746" y="50" width="4" height="1" fill="#ff0000"/>
<text x="751" y="53.6" font-size="9.6" fill="#000" stroke="#000" stroke-width="0.25" textLength="33.4" lengthAdjust="spacing">121.00</text>
<rect x="746" y="69" width="4" height="1" fill="#ff0000"/>
<text x="751" y="72.4" font-size="9.6" fill="#000" stroke="#000" stroke-width="0.25" textLength="33.4" lengthAdjust="spacing">120.50</text>
<rect x="746" y="87" width="4" height="1" fill="#ff0000"/>
<text x="751" y="91.3" font-size="9.6" fill="#000" stroke="#000" stroke-width="0.25" textLength="33.4" lengthAdjust="spacing">120.00</text>
<rect x="746" y="106" width="4" height="1" fill="#ff0000"/>
<text x="751" y="110.2" font-size="9.6" fill="#000" stroke="#000" stroke-width="0.25" textLength="33.4" lengthAdjust="spacing">119.50</text>
<rect x="746" y="125" width="4" height="1" fill="#ff0000"/>
<text x="751" y="129.0" font-size="9.6" fill="#000" stroke="#000" stroke-width="0.25" textLength="33.4" lengthAdjust="spacing">119.00</text>
<rect x="746" y="144" width="4" height="1" fill="#ff0000"/>
<text x="751" y="149.1" font-size="9.6" fill="#ff0000" stroke="#ff0000" stroke-width="0.2" textLength="33.4" lengthAdjust="spacing">118.45</text>
<rect x="746" y="163" width="4" height="1" fill="#ff0000"/>
<text x="751" y="166.7" font-size="9.6" fill="#000" stroke="#000" stroke-width="0.25" textLength="33.4" lengthAdjust="spacing">118.00</text>
<rect x="746" y="182" width="4" height="1" fill="#ff0000"/>
<text x="751" y="185.6" font-size="9.6" fill="#000" stroke="#000" stroke-width="0.25" textLength="33.4" lengthAdjust="spacing">117.50</text>
<rect x="746" y="200" width="4" height="1" fill="#ff0000"/>
<text x="751" y="204.4" font-size="9.6" fill="#000" stroke="#000" stroke-width="0.25" textLength="33.4" lengthAdjust="spacing">117.00</text>
<rect x="746" y="219" width="4" height="1" fill="#ff0000"/>
<text x="751" y="223.2" font-size="9.6" fill="#000" stroke="#000" stroke-width="0.25" textLength="33.4" lengthAdjust="spacing">116.50</text>
<rect x="746" y="238" width="4" height="1" fill="#ff0000"/>
<text x="751" y="242.1" font-size="9.6" fill="#000" stroke="#000" stroke-width="0.25" textLength="33.4" lengthAdjust="spacing">116.00</text>
<rect x="746" y="257" width="4" height="1" fill="#ff0000"/>
<text x="751" y="261.0" font-size="9.6" fill="#000" stroke="#000" stroke-width="0.25" textLength="33.4" lengthAdjust="spacing">115.50</text>
<rect x="746" y="276" width="4" height="1" fill="#ff0000"/>
<text x="751" y="279.8" font-size="9.6" fill="#000" stroke="#000" stroke-width="0.25" textLength="33.4" lengthAdjust="spacing">115.00</text>
<rect x="746" y="295" width="4" height="1" fill="#ff0000"/>
<text x="751" y="298.7" font-size="9.6" fill="#000" stroke="#000" stroke-width="0.25" textLength="33.4" lengthAdjust="spacing">114.50</text>
<rect x="746" y="314" width="4" height="1" fill="#ff0000"/>
<text x="751" y="317.5" font-size="9.6" fill="#000" stroke="#000" stroke-width="0.25" textLength="33.4" lengthAdjust="spacing">114.00</text>
<rect x="746" y="332" width="4" height="1" fill="#ff0000"/>
<text x="751" y="336.4" font-size="9.6" fill="#000" stroke="#000" stroke-width="0.25" textLength="33.4" lengthAdjust="spacing">113.50</text>
<rect x="16" y="341" width="1" height="5" fill="#ff0000"/>
<text x="16.7" y="358" font-size="8.2" fill="#000" text-anchor="middle" textLength="10.6" lengthAdjust="spacing">04</text>
<rect x="68" y="341" width="1" height="5" fill="#ff0000"/>
<text x="68.1" y="358" font-size="8.2" fill="#000" text-anchor="middle" textLength="10.6" lengthAdjust="spacing">11</text>
<rect x="119" y="341" width="1" height="5" fill="#ff0000"/>
<text x="119.6" y="358" font-size="8.2" fill="#000" text-anchor="middle" textLength="10.6" lengthAdjust="spacing">18</text>
<rect x="170" y="341" width="1" height="5" fill="#ff0000"/>
<text x="171.0" y="358" font-size="8.2" fill="#000" text-anchor="middle" textLength="10.6" lengthAdjust="spacing">25</text>
<rect x="222" y="341" width="1" height="5" fill="#ff0000"/>
<text x="222.4" y="358" font-size="8.2" fill="#000" text-anchor="middle" textLength="10.6" lengthAdjust="spacing">01</text>
<rect x="273" y="341" width="1" height="5" fill="#ff0000"/>
<text x="273.8" y="358" font-size="8.2" fill="#000" text-anchor="middle" textLength="10.6" lengthAdjust="spacing">08</text>
<rect x="325" y="341" width="1" height="5" fill="#ff0000"/>
<text x="325.3" y="358" font-size="8.2" fill="#000" text-anchor="middle" textLength="10.6" lengthAdjust="spacing">15</text>
<rect x="376" y="341" width="1" height="5" fill="#ff0000"/>
<text x="376.7" y="358" font-size="8.2" fill="#000" text-anchor="middle" textLength="10.6" lengthAdjust="spacing">22</text>
<rect x="428" y="341" width="1" height="5" fill="#ff0000"/>
<text x="428.1" y="358" font-size="8.2" fill="#000" text-anchor="middle" textLength="10.6" lengthAdjust="spacing">29</text>
<rect x="479" y="341" width="1" height="5" fill="#ff0000"/>
<text x="479.6" y="358" font-size="8.2" fill="#000" text-anchor="middle" textLength="10.6" lengthAdjust="spacing">05</text>
<rect x="530" y="341" width="1" height="5" fill="#ff0000"/>
<text x="531.0" y="358" font-size="8.2" fill="#000" text-anchor="middle" textLength="10.6" lengthAdjust="spacing">12</text>
<rect x="582" y="341" width="1" height="5" fill="#ff0000"/>
<text x="582.4" y="358" font-size="8.2" fill="#000" text-anchor="middle" textLength="10.6" lengthAdjust="spacing">19</text>
<rect x="633" y="341" width="1" height="5" fill="#ff0000"/>
<text x="633.9" y="358" font-size="8.2" fill="#000" text-anchor="middle" textLength="10.6" lengthAdjust="spacing">26</text>
<rect x="685" y="341" width="1" height="5" fill="#ff0000"/>
<text x="685.3" y="358" font-size="8.2" fill="#000" text-anchor="middle" textLength="10.6" lengthAdjust="spacing">05</text>
<text x="198.5" y="370.6" font-size="8.2" fill="#000" textLength="46" lengthAdjust="spacing">01/01/06</text>
<rect x="463.3" y="363.5" width="5.6" height="7" fill="none" stroke="#000" stroke-width="1"/>
<rect x="473.0" y="363.5" width="5.6" height="7" fill="none" stroke="#000" stroke-width="1"/>
<text x="480.4" y="370.6" font-size="8.2" fill="#000" textLength="15.5" lengthAdjust="spacing">/06</text>
<rect x="669.0" y="363.5" width="5.6" height="7" fill="none" stroke="#000" stroke-width="1"/>
<rect x="678.7" y="363.5" width="5.6" height="7" fill="none" stroke="#000" stroke-width="1"/>
<text x="686.1" y="370.6" font-size="8.2" fill="#000" textLength="15.5" lengthAdjust="spacing">/06</text>
<g clip-path="url(#cr)">
<line x1="13" y1="394.5" x2="745" y2="394.5" stroke="#ff0000" stroke-width="1.2" stroke-dasharray="5,3"/>
<line x1="13" y1="403.5" x2="745" y2="403.5" stroke="#ff0000" stroke-width="1.2" stroke-dasharray="5,3"/>
<polyline fill="none" stroke="#000" stroke-width="1" stroke-linejoin="round" points="12.0,395.4 15.0,392.9 18.0,392.0 20.5,393.5 23.0,394.7 25.5,395.1 28.0,396.4 30.5,397.5 33.0,398.0 35.5,401.9 38.0,405.0 41.0,399.7 42.8,399.0 44.5,401.0 47.0,403.7 49.4,409.5 51.9,409.8 54.4,408.0 56.7,405.5 59.0,404.6 61.5,403.4 64.0,404.0 66.5,404.1 69.0,401.0 70.8,400.3 72.5,399.7 74.1,408.1 75.7,414.4 78.2,414.0 80.7,413.8 82.3,409.6 84.0,404.6 87.0,404.0 88.8,408.1 90.5,414.4 93.0,418.1 95.5,421.0 97.2,419.7 98.8,416.0 100.4,418.3 102.0,420.4 105.0,416.0 107.5,417.3 110.0,417.0 112.5,415.9 115.0,413.8 117.5,413.5 120.0,416.0 121.7,411.8 123.4,406.0 125.7,407.3 128.0,408.0 130.5,403.9 133.0,401.0 135.5,397.7 138.0,397.4 139.8,399.2 141.5,398.7 143.2,397.0 144.8,395.4 148.0,398.7 151.0,396.4 152.8,398.8 154.6,399.7 156.3,405.1 158.0,408.0 161.0,406.0 163.5,408.4 166.0,409.5 168.5,412.0 171.0,411.8 174.0,406.0 176.5,406.7 179.0,408.0 180.8,406.5 182.6,403.0 184.0,394.7 186.5,393.7 189.0,393.0 190.7,396.1 192.4,396.4 194.1,395.9 195.7,393.0 197.8,390.1 200.0,389.8 202.0,390.2 204.0,393.0 207.0,395.4 209.0,395.0 211.0,396.4 213.8,405.0 217.0,397.4 219.5,401.7 222.0,403.0 224.5,401.1 227.0,399.7 229.5,401.8 232.0,403.0 234.4,405.6 236.8,409.5 240.0,414.4 242.0,416.9 244.0,419.4 246.0,414.8 248.0,411.0 250.5,409.0 253.0,408.0 255.5,409.0 258.0,409.5 260.5,408.0 263.0,406.0 264.8,407.3 266.6,406.0 268.3,412.4 270.0,417.7 273.2,418.2 276.4,416.0 278.7,414.6 281.0,411.0 283.5,411.1 286.0,408.0 288.5,408.0 291.0,407.0 293.5,404.7 296.0,404.6 298.5,407.5 301.0,408.0 303.5,410.2 306.0,409.5 309.0,413.8 310.8,409.7 312.6,403.0 315.1,402.0 317.5,400.6 320.0,404.0 322.5,406.0 325.7,411.0 327.4,406.1 329.0,403.0 331.5,400.8 334.0,396.4 336.5,395.8 339.0,394.7 342.0,391.4 343.8,393.2 345.5,396.4 347.9,395.8 350.4,398.0 352.7,400.6 355.0,401.0 356.8,401.4 358.6,398.7 361.1,399.5 363.5,403.0 365.1,401.5 366.8,398.0 369.3,400.2 371.8,403.0 374.2,403.4 376.7,406.0 378.4,409.5 380.0,414.4 382.5,413.6 385.0,411.0 387.5,410.2 390.0,407.0 392.4,404.5 394.8,405.0 397.2,403.4 399.7,401.0 401.4,401.0 403.0,404.0 406.0,395.4 408.5,397.1 411.0,397.4 413.5,394.7 416.0,393.0 418.5,393.4 421.0,391.4 423.5,391.0 426.0,387.5 428.5,389.5 431.0,391.4 434.0,388.0 437.4,390.0 440.8,388.8 444.0,399.7 445.7,400.7 447.4,403.0 449.7,399.1 452.0,398.0 454.5,394.2 457.0,389.8 459.5,387.2 462.0,387.5 464.5,387.7 467.0,389.8 468.7,391.1 470.4,393.0 472.7,390.6 475.0,387.5 476.8,389.1 478.6,393.0 481.1,394.9 483.5,399.7 486.0,398.4 488.5,394.7 490.1,394.5 491.8,395.4 495.0,410.5 498.0,408.0 500.6,413.8 502.8,411.4 505.0,406.0 508.0,399.7 509.8,402.1 511.5,402.0 513.2,400.0 515.0,398.7 517.5,399.1 520.0,399.7 523.0,412.8 525.5,410.5 528.0,408.0 530.5,407.5 533.0,406.0 535.5,405.3 538.0,404.0 541.0,408.0 543.5,410.1 546.0,411.8 548.5,410.3 551.0,408.0 552.7,407.4 554.4,404.0 556.0,405.0 557.7,406.0 560.2,402.1 562.6,398.7 565.0,401.6 567.5,403.0 569.1,404.7 570.8,408.0 572.4,401.1 574.0,395.4 576.5,399.9 579.0,401.3 581.5,402.2 584.0,403.0 586.5,401.5 589.0,399.7 591.4,396.0 593.8,395.4 596.3,392.3 598.8,389.8 600.4,392.2 602.0,394.0 605.0,398.7 606.8,396.5 608.6,397.4 611.0,403.1 613.5,408.0 616.0,412.9 618.5,417.0 621.0,416.8 623.4,419.4 625.0,420.3 626.7,420.4 628.4,417.0 630.0,413.8 633.0,415.0 636.0,408.0 638.0,419.4 639.8,417.2 641.5,413.8 644.0,411.9 646.4,411.0 648.0,410.9 649.7,409.5 652.0,415.0 654.0,415.8 656.0,415.0 657.8,408.5 659.6,405.0 662.0,404.1 664.5,406.0 667.0,405.6 669.4,404.0 671.5,407.5 673.7,408.0 676.0,399.7 678.5,398.1 681.0,398.0 683.5,399.2 686.0,400.6 687.5,405.0 690.0,393.0 692.0,391.7 694.0,389.8 695.7,390.8 697.4,393.0 700.0,388.8 702.0,390.5 704.0,393.0 707.0,397.4 708.8,395.8 710.5,395.4 713.0,396.0 715.5,397.4 717.1,398.0 718.7,398.0 721.0,406.0 723.7,397.4 726.2,395.4 728.6,394.7"/>
</g>
<text x="17.8" y="395.6" font-size="12" fill="#000" textLength="36.4" lengthAdjust="spacing">RSI 10</text>
<text x="751" y="398.7" font-size="9.6" fill="#ff0000" stroke="#ff0000" stroke-width="0.2" textLength="33.4" lengthAdjust="spacing">67.963</text>
<g clip-path="url(#cd)">
<line x1="13" y1="446" x2="745" y2="446" stroke="#ff0000" stroke-width="2.2" stroke-dasharray="5,3"/>
<line x1="13" y1="450.7" x2="745" y2="450.7" stroke="#ff0000" stroke-width="1.2" stroke-dasharray="5,3"/>
<polyline fill="none" stroke="#000" stroke-width="1" points="12.0,447.3 43.0,448.0 75.7,450.0 89.0,451.0 95.5,457.0 103.7,462.0 112.0,464.4 121.8,464.4 128.0,461.0 136.6,455.5 144.8,451.0 153.0,449.3 161.0,451.0 171.0,452.6 181.0,451.0 190.8,449.0 200.7,446.7 210.5,445.3 220.4,446.3 230.0,447.3 236.8,450.0 245.0,454.0 253.0,455.0 263.0,455.0 270.0,457.0 279.7,459.5 289.6,457.0 299.4,455.0 309.0,454.0 319.0,452.0 329.0,450.6 339.0,448.0 348.8,445.7 358.6,446.3 368.5,448.0 378.0,450.6 390.0,452.6 398.0,451.0 408.0,448.6 417.8,445.0 427.7,442.7 437.5,442.4 447.4,444.0 457.0,444.7 467.0,444.0 477.0,444.0 486.8,444.7 495.0,447.3 503.0,451.0 513.0,450.6 520.0,450.0 529.7,452.0 539.6,453.0 549.4,453.2 559.3,452.0 569.0,450.6 579.0,449.3 589.0,448.0 598.8,446.0 608.6,446.0 615.0,449.0 623.4,453.2 631.6,455.5 641.5,457.0 651.4,456.5 661.0,454.6 671.0,452.6 681.0,450.6 689.0,448.0 697.4,445.3 705.6,444.0 713.8,445.0 722.0,446.3 727.0,445.7"/>
<polyline fill="none" stroke="#ff0000" stroke-width="1.1" points="12.0,447.3 15.0,447.3 18.0,447.3 21.0,447.4 24.0,447.4 27.0,447.5 30.0,447.5 33.0,447.6 36.0,447.7 39.0,447.7 42.0,447.8 45.0,447.9 48.0,448.0 51.0,448.1 54.0,448.3 57.0,448.4 60.0,448.6 63.0,448.8 66.0,448.9 69.0,449.1 72.0,449.3 75.0,449.5 78.0,449.7 81.0,449.9 84.0,450.1 87.0,450.3 90.0,450.6 93.0,451.5 96.0,453.0 99.0,454.7 102.0,456.4 105.0,458.0 108.0,459.5 111.0,460.8 114.0,461.8 117.0,462.6 120.0,463.1 123.0,463.4 126.0,463.2 129.0,462.5 132.0,461.5 135.0,460.2 138.0,458.7 141.0,457.2 144.0,455.7 147.0,454.2 150.0,453.0 153.0,452.0 156.0,451.3 159.0,451.0 162.0,451.0 165.0,451.2 168.0,451.4 171.0,451.7 174.0,451.9 177.0,451.8 180.0,451.7 183.0,451.4 186.0,451.1 189.0,450.6 192.0,450.1 195.0,449.6 198.0,449.0 201.0,448.3 204.0,447.8 207.0,447.2 210.0,446.7 213.0,446.3 216.0,446.2 219.0,446.1 222.0,446.2 225.0,446.3 228.0,446.5 231.0,446.8 234.0,447.3 237.0,448.0 240.0,448.9 243.0,450.0 246.0,451.2 249.0,452.1 252.0,452.9 255.0,453.5 258.0,454.0 261.0,454.3 264.0,454.5 267.0,454.9 270.0,455.5 273.0,456.1 276.0,456.7 279.0,457.4 282.0,457.9 285.0,458.1 288.0,457.9 291.0,457.6 294.0,457.2 297.0,456.8 300.0,456.3 303.0,455.8 306.0,455.4 309.0,455.0 312.0,454.6 315.0,454.1 318.0,453.6 321.0,453.1 324.0,452.6 327.0,452.1 330.0,451.7 333.0,451.1 336.0,450.5 339.0,449.8 342.0,449.1 345.0,448.5 348.0,447.8 351.0,447.2 354.0,446.8 357.0,446.6 360.0,446.6 363.0,446.7 366.0,446.9 369.0,447.2 372.0,447.6 375.0,448.2 378.0,448.8 381.0,449.5 384.0,450.0 387.0,450.6 390.0,451.1 393.0,451.5 396.0,451.5 399.0,451.3 402.0,451.0 405.0,450.6 408.0,450.1 411.0,449.4 414.0,448.6 417.0,447.7 420.0,446.8 423.0,446.0 426.0,445.2 429.0,444.5 432.0,443.9 435.0,443.5 438.0,443.2 441.0,443.1 444.0,443.1 447.0,443.3 450.0,443.6 453.0,443.8 456.0,444.0 459.0,444.2 462.0,444.3 465.0,444.2 468.0,444.2 471.0,444.1 474.0,444.1 477.0,444.1 480.0,444.1 483.0,444.2 486.0,444.3 489.0,444.5 492.0,445.0 495.0,445.6 498.0,446.4 501.0,447.3 504.0,448.4 507.0,449.1 510.0,449.6 513.0,449.9 516.0,450.1 519.0,450.1 522.0,450.1 525.0,450.3 528.0,450.7 531.0,451.1 534.0,451.4 537.0,451.8 540.0,452.1 543.0,452.4 546.0,452.6 549.0,452.8 552.0,452.8 555.0,452.8 558.0,452.6 561.0,452.4 564.0,452.1 567.0,451.8 570.0,451.4 573.0,451.1 576.0,450.7 579.0,450.3 582.0,449.9 585.0,449.6 588.0,449.2 591.0,448.8 594.0,448.3 597.0,447.8 600.0,447.3 603.0,446.9 606.0,446.6 609.0,446.5 612.0,446.7 615.0,447.2 618.0,448.1 621.0,449.1 624.0,450.2 627.0,451.3 630.0,452.4 633.0,453.3 636.0,454.1 639.0,454.8 642.0,455.4 645.0,455.8 648.0,456.1 651.0,456.2 654.0,456.2 657.0,456.0 660.0,455.7 663.0,455.3 666.0,454.9 669.0,454.4 672.0,453.8 675.0,453.3 678.0,452.7 681.0,452.2 684.0,451.5 687.0,450.7 690.0,449.9 693.0,449.1 696.0,448.2 699.0,447.3 702.0,446.5 705.0,445.9 708.0,445.4 711.0,445.1 714.0,445.1 717.0,445.2 720.0,445.4 723.0,445.6 726.0,445.7"/>
</g>
<text x="18" y="451.7" font-size="12" fill="#000" textLength="81" lengthAdjust="spacing">MACD 26,12,9</text>
<text x="751" y="450" font-size="9.6" fill="#ff0000" stroke="#ff0000" stroke-width="0.2" textLength="27.4" lengthAdjust="spacing">0.309</text>
<rect x="746" y="464" width="4" height="1" fill="#ff0000"/>
<rect x="746" y="394" width="4" height="1" fill="#ff0000"/>
<rect x="746" y="446" width="4" height="1" fill="#ff0000"/>
<text x="751" y="467.6" font-size="9.6" fill="#000" textLength="25.8" lengthAdjust="spacing">-1.00</text>
</svg>
</body></html>
